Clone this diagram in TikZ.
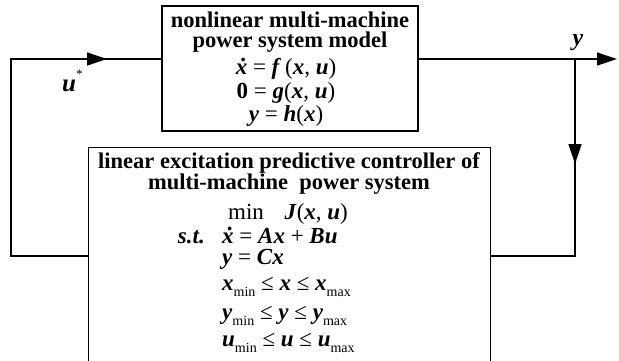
\documentclass[tikz,border=0pt]{standalone}
\usepackage{fontspec}
\setmainfont{Liberation Serif}
\usetikzlibrary{arrows.meta,positioning}

\newcommand{\bi}[1]{\textbf{\textit{#1}}}
\newcommand{\xdot}{\leavevmode\rlap{\hspace{0.2em}\raisebox{0.55em}{\textbf{.}}}\bi{x}}
\newcommand{\lo}[1]{\raisebox{-0.3em}{\fontsize{14}{14}\selectfont #1}}

\tikzset{
  blk/.style={draw,line width=1.3pt,rectangle,inner sep=0pt},
  wire/.style={line width=1.3pt},
  tip/.style={line width=1.3pt,-{Triangle[length=20pt,width=13pt]}},
  ttl/.style={anchor=base,inner sep=0pt,font=\fontsize{22.5}{24}\selectfont\bfseries},
  eq/.style={anchor=base,inner sep=0pt,font=\fontsize{23}{24}\selectfont},
  eql/.style={eq,anchor=base west},
}

\begin{document}
\begin{tikzpicture}[x=1pt,y=-1pt]
\clip (0,0) rectangle (619,360);

% blocks
\node[blk,minimum width=256pt,minimum height=125pt] (plant) at (290,68.5) {};
\node[blk,minimum width=402pt,minimum height=240pt,anchor=north west] (ctrl) at (88,147) {};

% plant text
\node[ttl] (p1) at (290,27) {nonlinear multi-machine};
\node[ttl] (p2) at (290,47) {power system model};
\node[eq] (p3) at (286,74) {\xdot{} = \bi{f}\,(\bi{x}, \bi{u})};
\node[eq] (p4) at (286,98) {\textbf{0} = \bi{g}(\bi{x}, \bi{u})};
\node[eq] (p5) at (286,121) {\bi{y} = \bi{h}(\bi{x})};

% controller text
\node[ttl] (c1) at (289,168) {linear excitation predictive controller of};
\node[ttl] (c2) at (289,189) {multi-machine\ \ power system};
\node[eql] (c3) at (228,219) {min\hspace{0.9em}\bi{J}(\bi{x}, \bi{u})};
\node[eq,anchor=base east] (st) at (205,243) {\bi{s.t.}};
\node[eql] (c4) at (222,243) {\xdot{} = \bi{A}\bi{x} + \bi{B}\bi{u}};
\node[eql] (c5) at (222,264) {\bi{y} = \bi{C}\bi{x}};
\node[eql] (c6) at (222,290) {\bi{x}\lo{min} ≤ \bi{x} ≤ \bi{x}\lo{max}};
\node[eql] (c7) at (222,319) {\bi{y}\lo{min} ≤ \bi{y} ≤ \bi{y}\lo{max}};
\node[eql] (c8) at (222,346) {\bi{u}\lo{min} ≤ \bi{u} ≤ \bi{u}\lo{max}};

% signals
\coordinate (out) at (617,59);
\coordinate (br) at (575,59);
\coordinate (fb) at (575,256);
\coordinate (ymark) at (575,164);
\coordinate (lt) at (11,59);
\coordinate (lb) at (11,256);
\coordinate (umark) at (107,59);

\draw[tip] (plant.east |- out) -- (out);
\draw[wire] (br) -- (fb) -- (ctrl.east |- fb);
\draw[tip] (br) -- (ymark);
\draw[wire] (ctrl.west |- lb) -- (lb) -- (lt) -- (plant.west |- lt);
\draw[tip] (lt) -- (umark);

\node[inner sep=0pt,anchor=base,font=\fontsize{24}{24}\selectfont] (ylbl) at (578,45) {\bi{y}};
\node[inner sep=0pt,anchor=base west,font=\fontsize{25}{25}\selectfont] (ulbl) at (62,91) {\bi{u}\raisebox{0.5em}{\fontsize{13}{13}\selectfont *}};
\end{tikzpicture}
\end{document}
